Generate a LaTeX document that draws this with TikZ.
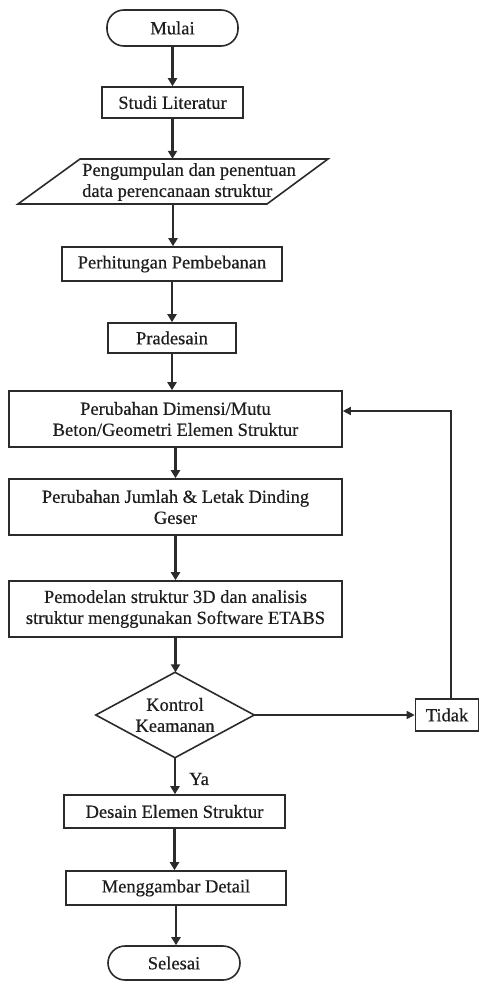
\documentclass[tikz,border=0pt]{standalone}
\usepackage{fontspec}
\setmainfont{Liberation Serif}[FakeBold=0.5]
\newfontfamily\heavyserif{Liberation Serif}[FakeBold=0.5]
\usetikzlibrary{arrows.meta}
\definecolor{linec}{HTML}{2B2B2B}
\definecolor{txtc}{HTML}{1E1E1E}
\tikzset{
  txt/.style={inner sep=0pt, align=center, font=\heavyserif\fontsize{18.5}{21}\selectfont, text=txtc},
  procbox/.style={txt, draw=linec, line width=1.6pt, rectangle},
  termbox/.style={procbox, rounded corners=17pt},
  flow/.style={draw=linec, line width=2.4pt, -{Triangle[length=8pt,width=9pt]}},
  thinflow/.style={draw=linec, line width=1.5pt, -{Triangle[length=8pt,width=8pt]}},
  outline/.style={draw=linec, line width=1.6pt, line join=miter},
}
\begin{document}
\begin{tikzpicture}[x=1pt,y=-1pt]
\useasboundingbox (0,0) rectangle (480,982);

\node[termbox, minimum width=131pt, minimum height=36pt] (mulai) at (172.5,28) {Mulai};
\node[procbox, minimum width=141pt, minimum height=31pt] (studi) at (172.5,102.5) {Studi Literatur};

\node[txt, minimum width=310pt, minimum height=45pt] (data) at (173,181.5) {};
\draw[outline] (80,159) -- (328,159) -- (267,204) -- (18,204) -- cycle;
\node[txt, align=left, anchor=west] (datatxt) at (82,182) {Pengumpulan dan penentuan\\data perencanaan struktur};

\node[procbox, minimum width=220pt, minimum height=34pt] (hitung) at (172,264) {Perhitungan Pembebanan};
\node[procbox, minimum width=128pt, minimum height=30pt] (pra) at (172,338) {Pradesain};
\node[procbox, minimum width=333pt, minimum height=56pt] (ubah1) at (175.5,419) {Perubahan Dimensi/Mutu\\Beton/Geometri Elemen Struktur};
\node[procbox, minimum width=333pt, minimum height=56pt] (ubah2) at (175.5,507) {Perubahan Jumlah \& Letak Dinding\\Geser};
\node[procbox, minimum width=333pt, minimum height=56pt] (model) at (175.5,609) {Pemodelan struktur 3D dan analisis\\struktur menggunakan Software ETABS};

\node[txt, minimum width=158pt, minimum height=85pt] (kontrol) at (175,715) {Kontrol\\Keamanan};
\draw[outline] (kontrol.north) -- (kontrol.east) -- (kontrol.south) -- (kontrol.west) -- cycle;

\node[procbox, minimum width=63pt, minimum height=32pt] (tidak) at (447,715) {Tidak};
\node[txt, anchor=west] (ya) at (189,779) {Ya};

\node[procbox, minimum width=221pt, minimum height=33pt] (desain) at (174.5,811.5) {Desain Elemen Struktur};
\node[procbox, minimum width=220pt, minimum height=34pt] (gambar) at (176,888) {Menggambar Detail};
\node[termbox, minimum width=132pt, minimum height=34pt] (selesai) at (174,963) {Selesai};

\draw[flow] (mulai.south) -- (mulai.south |- studi.north);
\draw[flow] (studi.south) -- (studi.south |- data.north);
\draw[flow] (data.south) -- (data.south |- hitung.north);
\draw[flow] (hitung.south) -- (hitung.south |- pra.north);
\draw[flow] (pra.south) -- (pra.south |- ubah1.north);
\draw[flow] (ubah1.south) -- (ubah1.south |- ubah2.north);
\draw[flow] (ubah2.south) -- (ubah2.south |- model.north);
\draw[flow] (model.south) -- (model.south |- kontrol.north);
\draw[flow] (kontrol.south) -- (kontrol.south |- desain.north);
\draw[flow] (desain.south) -- (desain.south |- gambar.north);
\draw[flow] (gambar.south) -- (gambar.south |- selesai.north);

\draw[thinflow] (kontrol.east) -- (tidak.west);
\coordinate (corner) at (451,411);
\draw[thinflow] (tidak.north -| corner) -- (corner) -- (corner -| ubah1.east);
\end{tikzpicture}
\end{document}
